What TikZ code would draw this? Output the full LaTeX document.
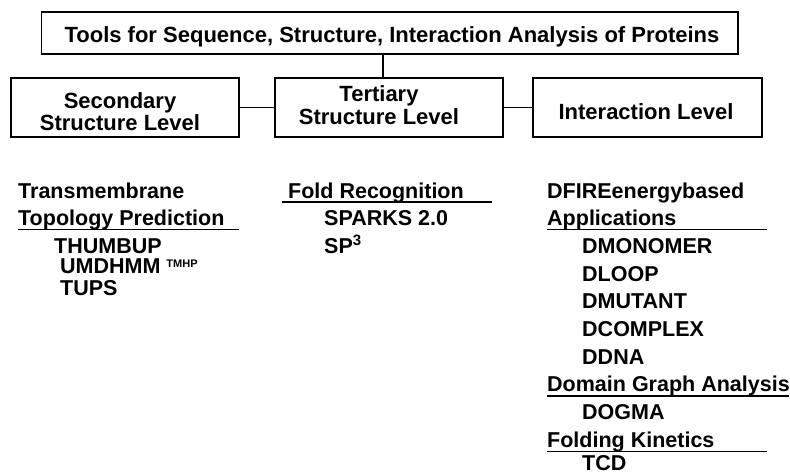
\documentclass[tikz,border=0pt]{standalone}
\usepackage{fontspec}
\setmainfont{Liberation Sans}
\begin{document}
\begin{tikzpicture}[x=1pt,y=-1pt,
  box/.style={draw,line width=1.3pt,rectangle,inner sep=0pt},
  txt/.style={font=\bfseries\fontsize{21.5}{24}\selectfont,inner sep=0pt,anchor=base west},
  ctxt/.style={font=\bfseries\fontsize{22}{24}\selectfont,inner sep=0pt,anchor=base,align=center},
  uline/.style={line width=1.2pt},
  conn/.style={line width=1.1pt}]
\useasboundingbox (0,0) rectangle (790,472);
% boxes
\node[box,minimum width=696.5pt,minimum height=42pt] (top) at (389.75,33) {};
\node[box,minimum width=228pt,minimum height=59pt] (sec) at (125,107.5) {};
\node[box,minimum width=228pt,minimum height=59pt] (ter) at (389,107.5) {};
\node[box,minimum width=229pt,minimum height=59pt] (int) at (647.5,107.5) {};
% box texts
\node[ctxt] (toptxt) at (392,42) {Tools for Sequence, Structure, Interaction Analysis of Proteins};
\node[ctxt] (sec1) at (120,108) {Secondary};
\node[ctxt] (sec2) at (120,130) {Structure Level};
\node[ctxt] (ter1) at (379,101) {Tertiary};
\node[ctxt] (ter2) at (379,124) {Structure Level};
\node[ctxt] (int1) at (646,119) {Interaction Level};
% connectors
\coordinate (v) at (383,0);
\draw[conn] (top.south -| v) -- (ter.north -| v);
\draw[conn] (sec.east) -- (ter.west);
\draw[conn] (ter.east) -- (int.west);
% left column
\node[txt] (l1) at (18,198) {Transmembrane};
\node[txt] (l2) at (18,225.7) {Topology Prediction};
\node[txt] (l3) at (54,253.4) {THUMBUP};
\node[txt] (l4) at (60,273.5) {UMDHMM \raisebox{6pt}{\fontsize{11}{11}\selectfont TMHP}};
\node[txt] (l5) at (60,295) {TUPS};
\draw[uline] ([yshift=-4pt]l2.base west) -- ++(221,0);
% middle column
\node[txt] (m1) at (288,198) {Fold Recognition};
\node[txt] (m2) at (324,225.7) {SPARKS 2.0};
\node[txt] (m3) at (324,253.4) {SP\textsuperscript{3}};
\draw[uline] ([yshift=-4pt,xshift=-6pt]m1.base west) -- ++(210,0);
% right column
\node[txt] (r1) at (547,198) {DFIREenergybased};
\node[txt] (r2) at (547,225.7) {Applications};
\node[txt] (r3) at (582,253.4) {DMONOMER};
\node[txt] (r4) at (582,281.1) {DLOOP};
\node[txt] (r5) at (582,308.8) {DMUTANT};
\node[txt] (r6) at (582,336.5) {DCOMPLEX};
\node[txt] (r7) at (582,364.2) {DDNA};
\node[txt] (r8) at (547,391.9) {Domain Graph Analysis};
\node[txt] (r9) at (582,419.6) {DOGMA};
\node[txt] (r10) at (547,447.3) {Folding Kinetics};
\node[txt] (r11) at (582,470.5) {TCD};
\draw[uline] ([yshift=-4pt]r2.base west) -- ++(220,0);
\draw[uline] ([yshift=-4pt]r8.base west) -- ++(242,0);
\draw[uline] ([yshift=-4pt]r10.base west) -- ++(220,0);
\end{tikzpicture}
\end{document}
